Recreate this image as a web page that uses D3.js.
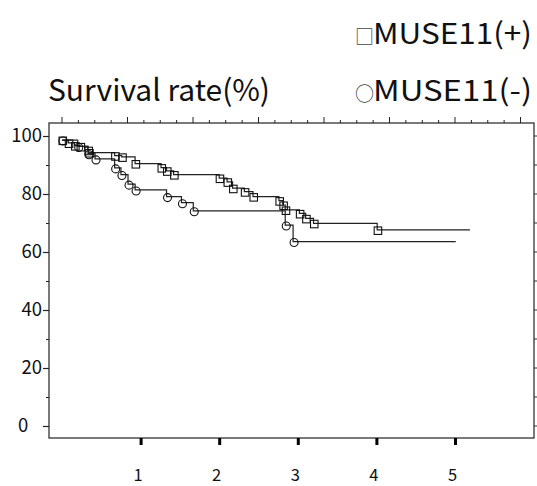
<!DOCTYPE html>
<html><head><meta charset="utf-8">
<script src="https://cdn.jsdelivr.net/npm/d3@7"></script>
<style>body{margin:0;background:#fff} svg{display:block}</style>
</head><body>
<script>
// ---- data (time in years, survival in %) ----
const plusTimes = [0.00,0.08,0.16,0.23,0.33,0.34,0.67,0.76,0.93,1.26,1.33,1.42,2.00,2.10,2.17,2.32,2.43,2.76,2.81,2.84,3.02,3.10,3.20,4.01];
const plusSurv  = [98.6,97.6,96.7,96.4,95.1,94.3,93.2,92.8,90.5,89.1,88.0,86.7,85.5,84.2,82.0,80.8,79.1,77.7,76.2,74.5,73.3,71.6,69.9,67.6];
const plusEnd = 5.19;
const minusTimes = [0.00,0.20,0.33,0.42,0.67,0.75,0.84,0.93,1.33,1.52,1.67,2.84,2.94];
const minusSurv  = [98.6,96.4,93.9,92.1,89.0,86.7,83.4,81.4,79.1,77.0,74.2,69.3,63.6];
const minusEnd = 5.01;
const xTickValues = [1,2,3,4,5];
const xTickLabels = ["1","2","3","4","5"];
const yTickValues = [0,20,40,60,80,100];
const yTickLabels = ["0","20","40","60","80","100"];
const yMinorValues = [10,30,50,70,90];
const rightTickValues = [0,10,20,30,40,50,60,70,80,90,100];
const topTickMonths = d3.range(0, 71, 2.5);
const legendSymbols = ["□","○"];
const legendLabels = ["MUSE11(+)","MUSE11(-)"];
const titleText = "Survival rate(%)";

const W = 537, H = 486;
const FONT = "'Noto Sans CJK JP','Noto Sans',sans-serif";
const svg = d3.select("body").append("svg").attr("width", W).attr("height", H)
  .style("font-family", FONT);

const frame = {l: 49, r: 534, t: 123, b: 438};
const x = d3.scaleLinear().domain([0, 6]).range([62, 533.6]);
const y = d3.scaleLinear().domain([0, 100]).range([426, 136]);

// frame
svg.append("rect").attr("x", frame.l).attr("y", frame.t)
  .attr("width", frame.r - frame.l).attr("height", frame.b - frame.t)
  .attr("fill", "none").attr("stroke", "#333").attr("stroke-width", 1.3);

// top ticks (months)
svg.append("g").selectAll("line").data(topTickMonths.filter(m => x(m / 12) <= frame.r))
  .join("line")
  .attr("x1", m => x(m / 12)).attr("x2", m => x(m / 12))
  .attr("y1", frame.t).attr("y2", m => frame.t - (m % 10 === 0 ? 6 : 3))
  .attr("stroke", "#222").attr("stroke-width", 1);

// right ticks
svg.append("g").selectAll("line").data(rightTickValues).join("line")
  .attr("x1", frame.r).attr("x2", frame.r + 3)
  .attr("y1", d => y(d)).attr("y2", d => y(d))
  .attr("stroke", "#333").attr("stroke-width", 1);

// left axis
const yAxis = svg.append("g").attr("transform", `translate(${frame.l},0)`)
  .call(d3.axisLeft(y).tickValues(yTickValues).tickSize(6).tickPadding(3)
    .tickFormat((d, i) => yTickLabels[i]));
yAxis.select(".domain").remove();
yAxis.selectAll(".tick line").attr("stroke", "#222").attr("stroke-width", 1.2);
yAxis.selectAll(".tick text").attr("font-size", 18.5).attr("font-family", FONT).attr("fill", "#111")
  .attr("x", -7)
  .filter(d => d === 0).attr("text-anchor", "start").attr("x", -31);
const yMinor = svg.append("g").attr("transform", `translate(${frame.l},0)`)
  .call(d3.axisLeft(y).tickValues(yMinorValues).tickSize(3).tickFormat(""));
yMinor.select(".domain").remove();
yMinor.selectAll(".tick line").attr("stroke", "#222");

// bottom axis
const xAxis = svg.append("g").attr("transform", `translate(0,${frame.b})`)
  .call(d3.axisBottom(x).tickValues(xTickValues).tickSize(7)
    .tickFormat((d, i) => xTickLabels[i]));
xAxis.select(".domain").remove();
xAxis.selectAll(".tick line").attr("stroke", "#000").attr("stroke-width", 3);
xAxis.selectAll(".tick text").attr("font-size", 16.5).attr("font-family", FONT).attr("fill", "#111")
  .attr("y", 43).attr("dy", null).attr("dx", -3);

// curves
const line = d3.line().x(d => x(d[0])).y(d => y(d[1])).curve(d3.curveStepAfter);
function series(times, surv, end) {
  const pts = times.map((t, i) => [t, surv[i]]);
  return {pts, path: pts.concat([[end, surv[surv.length - 1]]])};
}
const plus = series(plusTimes, plusSurv, plusEnd);
const minus = series(minusTimes, minusSurv, minusEnd);

[minus, plus].forEach(s => {
  svg.append("path").attr("d", line(s.path)).attr("fill", "none")
    .attr("stroke", "#222").attr("stroke-width", 1.2);
});
svg.append("g").selectAll("circle").data(minus.pts).join("circle")
  .attr("cx", d => x(d[0]) + 1).attr("cy", d => y(d[1]) + 1).attr("r", 4)
  .attr("fill", "none").attr("stroke", "#111").attr("stroke-width", 1.1);
svg.append("g").selectAll("rect").data(plus.pts).join("rect")
  .attr("x", d => x(d[0]) - 3).attr("y", d => y(d[1]) - 3)
  .attr("width", 7.5).attr("height", 7.5)
  .attr("fill", "none").attr("stroke", "#111").attr("stroke-width", 1.1);

// title
svg.append("text").attr("x", 48).attr("y", 101).attr("font-size", 30).attr("fill", "#111")
  .attr("textLength", 222).attr("lengthAdjust", "spacing")
  .text(titleText);

// legend
legendLabels.forEach((lab, i) => {
  const base = i === 0 ? 44 : 101;
  svg.append("text").attr("x", 355).attr("y", base).attr("font-size", 19)
    .attr("fill", "#444").text(legendSymbols[i]);
  svg.append("text").attr("x", 373).attr("y", base).attr("font-size", 29)
    .attr("fill", "#111").attr("textLength", 159).attr("lengthAdjust", "spacingAndGlyphs")
    .text(lab);
});
</script>
</body></html>
